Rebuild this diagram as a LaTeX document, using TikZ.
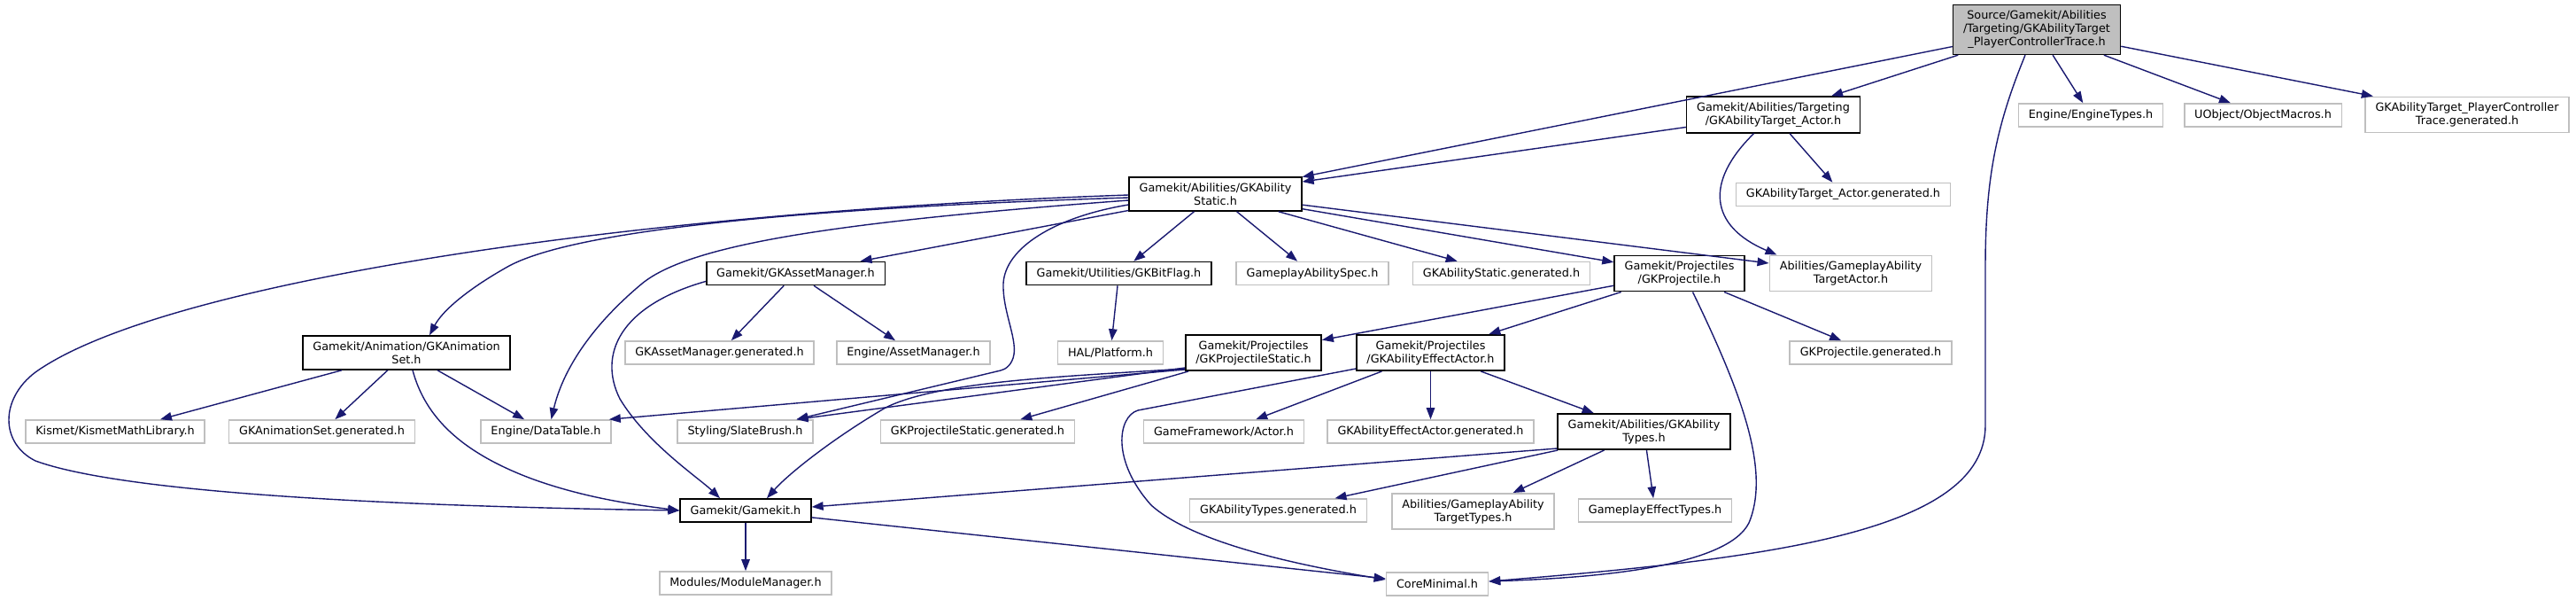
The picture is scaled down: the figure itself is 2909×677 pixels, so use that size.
\documentclass[tikz,border=0pt]{standalone}
\usepackage{fontspec}
\setmainfont{DejaVu Sans}
\usepackage{xcolor}
\usepackage{tikz}
\usetikzlibrary{arrows.meta}
\definecolor{edgeblue}{HTML}{191970}
\definecolor{boxgray}{HTML}{BFBFBF}

\begin{document}
\begin{tikzpicture}[x=1pt,y=-1pt,
  every node/.style={rectangle,draw,align=center,font=\fontsize{12.8}{15}\selectfont,
    inner xsep=11.5pt,inner ysep=6.5pt,minimum height=26pt,line width=1.6pt},
  hdr/.style={draw=black},
  ext/.style={draw=boxgray},
  mainhdr/.style={draw=black,fill=boxgray},
  dep/.style={draw=edgeblue,line width=1.4pt,-{Triangle[length=13pt,width=9.5pt]}},
]
\useasboundingbox (0,0) rectangle (2909,677);
\node[mainhdr](root) at(2300,33.5){Source/Gamekit/Abilities\\/Targeting/GKAbilityTarget\\\_PlayerControllerTrace.h};
\node[hdr](actor) at(2002.5,129.5){Gamekit/Abilities/Targeting\\/GKAbilityTarget\_Actor.h};
\node[ext](enginetypes) at(2361,130){Engine/EngineTypes.h};
\node[ext](objmacros) at(2555.5,130){UObject/ObjectMacros.h};
\node[ext](pctracegen) at(2786,129.5){GKAbilityTarget\_PlayerController\\Trace.generated.h};
\node[ext](actorgen) at(2081.5,219.5){GKAbilityTarget\_Actor.generated.h};
\node[hdr](abstatic) at(1372.5,219){Gamekit/Abilities/GKAbility\\Static.h};
\node[hdr](bitflag) at(1263.5,308.5){Gamekit/Utilities/GKBitFlag.h};
\node[ext](abspec) at(1482,308.5){GameplayAbilitySpec.h};
\node[ext](abstaticgen) at(1695.5,308.5){GKAbilityStatic.generated.h};
\node[hdr](projectile) at(1896.5,308.5){Gamekit/Projectiles\\/GKProjectile.h};
\node[ext](targetactor) at(2090,308.5){Abilities/GameplayAbility\\TargetActor.h};
\node[hdr](assetmgr) at(898.5,308.5){Gamekit/GKAssetManager.h};
\node[hdr](animset) at(459,398){Gamekit/Animation/GKAnimation\\Set.h};
\node[ext](assetmgrgen) at(812.5,398){GKAssetManager.generated.h};
\node[ext](engassetmgr) at(1031.5,398){Engine/AssetManager.h};
\node[ext](platform) at(1254,398){HAL/Platform.h};
\node[hdr](projstatic) at(1415.5,398){Gamekit/Projectiles\\/GKProjectileStatic.h};
\node[hdr](effectactor) at(1615.5,398){Gamekit/Projectiles\\/GKAbilityEffectActor.h};
\node[ext](projgen) at(2112.5,398){GKProjectile.generated.h};
\node[ext](kismet) at(130,487){Kismet/KismetMathLibrary.h};
\node[ext](animsetgen) at(363.5,487){GKAnimationSet.generated.h};
\node[ext](datatable) at(616.5,487){Engine/DataTable.h};
\node[ext](slatebrush) at(841.5,487){Styling/SlateBrush.h};
\node[ext](projstaticgen) at(1104,487){GKProjectileStatic.generated.h};
\node[ext](gfactor) at(1382,487){GameFramework/Actor.h};
\node[ext](effectactorgen) at(1615.5,487){GKAbilityEffectActor.generated.h};
\node[hdr](abtypes) at(1856.5,487){Gamekit/Abilities/GKAbility\\Types.h};
\node[hdr](gamekit) at(842,576){Gamekit/Gamekit.h};
\node[ext](abtypesgen) at(1443.5,576){GKAbilityTypes.generated.h};
\node[ext](targettypes) at(1663.5,577){Abilities/GameplayAbility\\TargetTypes.h};
\node[ext](effecttypes) at(1869,576){GameplayEffectTypes.h};
\node[ext](modmgr) at(842,658){Modules/ModuleManager.h};
\node[ext](coreminimal) at(1623,659){CoreMinimal.h};
\draw[dep](root)--(abstatic); \draw[dep](root)--(actor);
\draw[dep](root)--(enginetypes); \draw[dep](root)--(objmacros); \draw[dep](root)--(pctracegen);
\draw[dep]([xshift=-13pt]root.south) .. controls (2255,140) and (2242,200) .. (2242,300) -- (2242,480) .. controls (2242,600) and (2000,630) .. ([yshift=3pt]coreminimal.east);
\draw[dep](actor)--(abstatic); \draw[dep](actor)--(actorgen);
\draw[dep]([xshift=-22pt]actor.south) .. controls (1925,205) and (1930,255) .. ([xshift=9pt]targetactor.north west);
\draw[dep](abstatic)--(bitflag); \draw[dep](abstatic)--(abspec); \draw[dep](abstatic)--(abstaticgen);
\draw[dep](abstatic)--(projectile); \draw[dep](abstatic)--(targetactor); \draw[dep](abstatic)--(assetmgr);
\draw[dep]([yshift=-4pt]abstatic.west) .. controls (900,235) and (650,260) .. (575,300) .. controls (530,325) and (500,350) .. ([xshift=26pt]animset.north);
\draw[dep]([yshift=-1pt]abstatic.west) .. controls (700,240) and (180,320) .. (40,420) .. controls (0,450) and (0,500) .. (40,520) .. controls (150,560) and (500,572) .. (gamekit.west);
\draw[dep]([yshift=-7pt]abstatic.west) .. controls (950,250) and (780,275) .. (725,320) .. controls (665,370) and (635,420) .. ([xshift=6pt]datatable.north);
\draw[dep]([yshift=-12pt]abstatic.west) .. controls (1190,245) and (1135,280) .. (1133,320) .. controls (1132,350) and (1148,380) .. (1145,400) .. controls (1143,412) and (1135,417) .. (1130,418) -- ([xshift=58pt]slatebrush.north);
\draw[dep](assetmgr)--(assetmgrgen); \draw[dep](assetmgr)--(engassetmgr);
\draw[dep]([yshift=-9pt]assetmgr.west) .. controls (700,345) and (675,400) .. (700,450) .. controls (730,500) and (790,540) .. ([xshift=-29pt]gamekit.north);
\draw[dep](bitflag)--(platform);
\draw[dep](animset)--(kismet); \draw[dep](animset)--(animsetgen); \draw[dep](animset)--(datatable);
\draw[dep]([xshift=7pt]animset.south) .. controls (480,470) and (520,510) .. (600,540) .. controls (660,562) and (720,570) .. (gamekit.west);
\draw[dep](projectile)--(projstatic); \draw[dep](projectile)--(effectactor); \draw[dep](projectile)--(projgen);
\draw[dep]([xshift=15pt]projectile.south) .. controls (1965,440) and (2000,530) .. (1975,590) .. controls (1950,640) and (1800,652) .. ([yshift=3pt]coreminimal.east);
\draw[dep]([yshift=2pt]projstatic.south west)--([xshift=-3pt]datatable.north east);
\draw[dep]([yshift=4pt]projstatic.south west)--([xshift=58pt]slatebrush.north);
\draw[dep]([yshift=3pt]projstatic.south west) .. controls (1200,425) and (1060,430) .. (1000,460) .. controls (940,495) and (890,535) .. ([xshift=24pt]gamekit.north);
\draw[dep](projstatic)--(projstaticgen);
\draw[dep](effectactor)--(gfactor); \draw[dep](effectactor)--(effectactorgen); \draw[dep](effectactor)--(abtypes);
\draw[dep]([yshift=3pt]effectactor.south west) -- (1285,463) .. controls (1262,470) and (1255,520) .. (1300,570) .. controls (1350,615) and (1480,640) .. ([yshift=5pt]coreminimal.west);
\draw[dep]([yshift=2pt]abtypes.south west)--([yshift=4pt]gamekit.east);
\draw[dep](abtypes)--(abtypesgen); \draw[dep](abtypes)--(targettypes); \draw[dep](abtypes)--(effecttypes);
\draw[dep](gamekit)--(modmgr); \draw[dep](gamekit)--(coreminimal);
\end{tikzpicture}
\end{document}
